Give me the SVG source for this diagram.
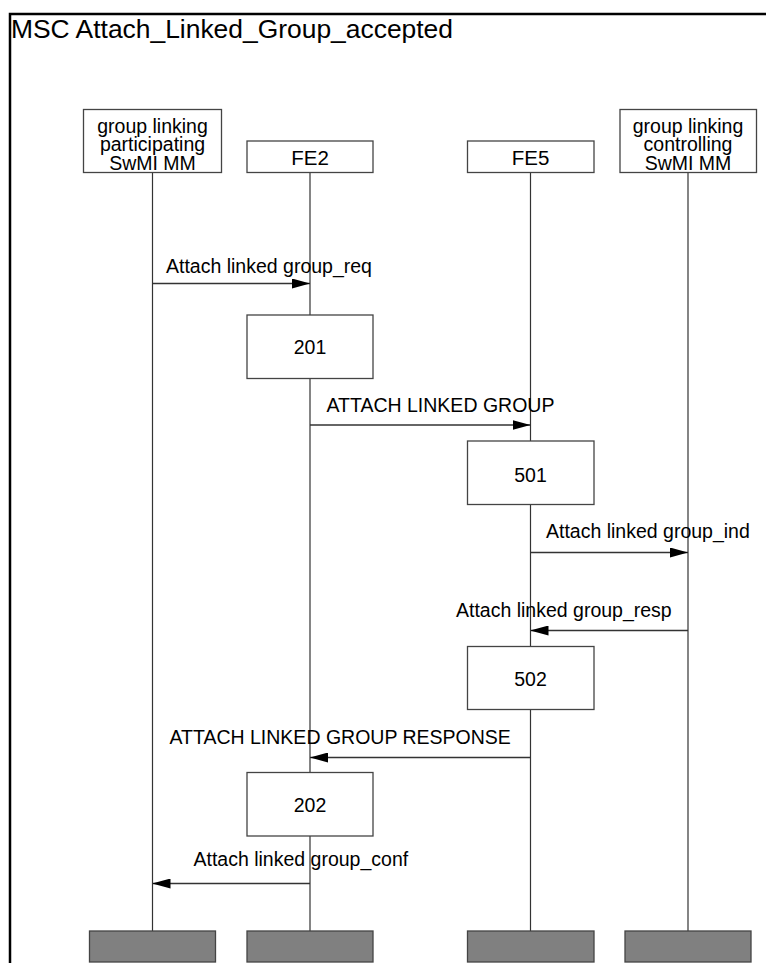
<svg xmlns="http://www.w3.org/2000/svg" width="766" height="963" viewBox="0 0 766 963">
<style>
  .frame { fill: none; stroke: #000; stroke-width: 2.5; }
  .title { font-family: "Liberation Sans", Arial, sans-serif; font-size: 25px; fill: #000; }
  .hbox { fill: #fff; stroke: #444; stroke-width: 1.3; }
  .ebox { fill: #808080; stroke: #444; stroke-width: 1.3; }
  .life { stroke: #333; stroke-width: 1.2; }
  .lbl { font-family: "Liberation Sans", Arial, sans-serif; font-size: 19.5px; fill: #000; }
  .mid { text-anchor: middle; }
  .msg { stroke: #333; stroke-width: 1.3; fill: none; marker-end: url(#ah); }
</style>
<defs>
  <marker id="ah" markerUnits="userSpaceOnUse" markerWidth="18" markerHeight="10" refX="18" refY="5" orient="auto">
    <path d="M0,0 L18,5 L0,10 z" fill="#000"/>
  </marker>
</defs>
<rect width="766" height="963" fill="#fff"/>
<rect class="frame" x="10" y="14" width="800" height="1000"/>
<text class="title" x="11" y="38" textLength="442" lengthAdjust="spacingAndGlyphs">MSC Attach_Linked_Group_accepted</text>

<g id="participating">
  <line class="life" x1="152.5" y1="172" x2="152.5" y2="931"/>
  <rect class="hbox" x="83.5" y="109.5" width="138" height="63"/>
  <text class="lbl mid" x="152.5" y="132.5">group linking</text>
  <text class="lbl mid" x="152.5" y="150.5">participating</text>
  <text class="lbl mid" x="152.5" y="169.5">SwMI MM</text>
  <rect class="ebox" x="89.5" y="931" width="126" height="31"/>
</g>
<g id="FE2">
  <line class="life" x1="310" y1="172" x2="310" y2="931"/>
  <rect class="hbox" x="247" y="141" width="126" height="31.5"/>
  <text class="lbl mid" x="310" y="165" style="font-size:20.5px">FE2</text>
  <rect class="ebox" x="247" y="931" width="126" height="31"/>
</g>
<g id="FE5">
  <line class="life" x1="530.5" y1="172" x2="530.5" y2="931"/>
  <rect class="hbox" x="467.5" y="141" width="126.5" height="31.5"/>
  <text class="lbl mid" x="530.5" y="165" style="font-size:20.5px">FE5</text>
  <rect class="ebox" x="467.5" y="931" width="126.5" height="31"/>
</g>
<g id="controlling">
  <line class="life" x1="688" y1="172" x2="688" y2="931"/>
  <rect class="hbox" x="620" y="109.5" width="136.5" height="63"/>
  <text class="lbl mid" x="688" y="132.5">group linking</text>
  <text class="lbl mid" x="688" y="150.5">controlling</text>
  <text class="lbl mid" x="688" y="169.5">SwMI MM</text>
  <rect class="ebox" x="625" y="931" width="126" height="31"/>
</g>

<g id="connectors">
  <line class="msg" x1="152.5" y1="283.5" x2="310" y2="283.5"/>
  <text class="lbl" x="166" y="273">Attach linked group_req</text>
  <line class="msg" x1="310" y1="425" x2="530.5" y2="425"/>
  <text class="lbl" x="326.5" y="411.5">ATTACH LINKED GROUP</text>
  <line class="msg" x1="530.5" y1="552.5" x2="688" y2="552.5"/>
  <text class="lbl" x="546" y="538">Attach linked group_ind</text>
  <line class="msg" x1="688" y1="630.5" x2="530.5" y2="630.5"/>
  <text class="lbl" x="456" y="616.5">Attach linked group_resp</text>
  <line class="msg" x1="530.5" y1="757.5" x2="310" y2="757.5"/>
  <text class="lbl" x="169.5" y="743.5">ATTACH LINKED GROUP RESPONSE</text>
  <line class="msg" x1="310" y1="883.5" x2="152.5" y2="883.5"/>
  <text class="lbl" x="193.5" y="866">Attach linked group_conf</text>
</g>

<g id="box201">
  <rect class="hbox" x="247" y="315" width="126" height="63.5"/>
  <text class="lbl mid" x="310" y="353.5">201</text>
</g>
<g id="box501">
  <rect class="hbox" x="467.5" y="441" width="126.5" height="63.5"/>
  <text class="lbl mid" x="530.5" y="481.5">501</text>
</g>
<g id="box502">
  <rect class="hbox" x="467.5" y="646.5" width="126.5" height="63"/>
  <text class="lbl mid" x="530.5" y="686">502</text>
</g>
<g id="box202">
  <rect class="hbox" x="247" y="772.5" width="126" height="63.5"/>
  <text class="lbl mid" x="310" y="811.5">202</text>
</g>
</svg>
